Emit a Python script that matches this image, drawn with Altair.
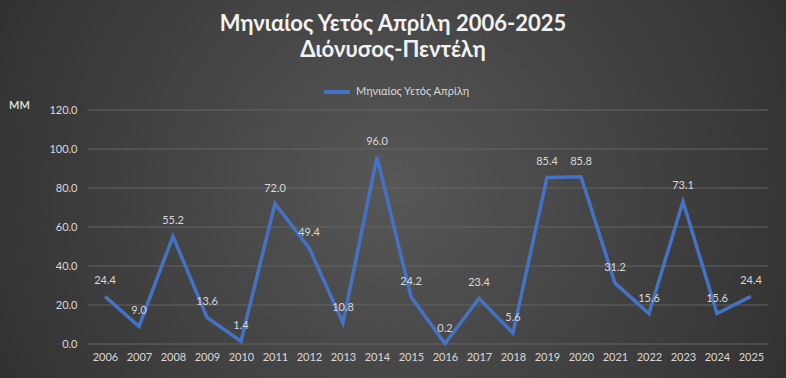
import altair as alt
import pandas as pd

years = ["2006", "2007", "2008", "2009", "2010", "2011", "2012", "2013", "2014", "2015",
         "2016", "2017", "2018", "2019", "2020", "2021", "2022", "2023", "2024", "2025"]
rain = [24.4, 9.0, 55.2, 13.6, 1.4, 72.0, 49.4, 10.8, 96.0, 24.2,
        0.2, 23.4, 5.6, 85.4, 85.8, 31.2, 15.6, 73.1, 15.6, 24.4]
series_name = "Μηνιαίος Υετός  Απρίλη"
y_ticks = [0, 20, 40, 60, 80, 100, 120]
title_lines = ["Μηνιαίος Υετός  Απρίλη 2006-2025", "Διόνυσος-Πεντέλη"]
y_unit = "MM"

df = pd.DataFrame({"year": years, "value": rain, "series": [series_name] * len(years)})
grid_df = pd.DataFrame({"value": y_ticks})

W, H = 680, 234
PL, PT, PR, PB = 88, 110, 18, 34
LABEL = "#d9d9d9"
FONT = "Lato"

yscale = alt.Scale(domain=[0, 120], nice=False)
yaxis = alt.Axis(values=y_ticks, format=".1f", grid=False, domain=False,
                 ticks=False, labelPadding=11, labelColor=LABEL,
                 labelFont=FONT, labelFontSize=11,
                 title=y_unit, titleAngle=0, titleX=-69, titleY=-5,
                 titleAlign="center", titleBaseline="middle",
                 titleFont=FONT, titleFontSize=11, titleFontWeight="bold",
                 titleColor=LABEL, zindex=1)
xaxis = alt.Axis(labelAngle=0, domain=False, ticks=False, grid=False,
                 labelPadding=7, labelColor=LABEL, labelFont=FONT,
                 labelFontSize=11, zindex=1)

bg = alt.Chart(alt.InlineData(values=[{"a": 1}])).mark_rect(
    fill=alt.RadialGradient(
        gradient="radial", x1=0.5, y1=0.5, r1=0, x2=0.5, y2=0.5, r2=0.72,
        stops=[alt.GradientStop(offset=0, color="#575757"),
               alt.GradientStop(offset=1, color="#262626")]),
    stroke=None
).encode(
    x=alt.value(-PL), x2=alt.value(W + PR), y=alt.value(-PT), y2=alt.value(H + PB)
)

grid = alt.Chart(grid_df).mark_rule(color="#646464", strokeWidth=1).encode(
    y=alt.Y("value:Q", scale=yscale, axis=yaxis)
)

line = alt.Chart(df).mark_line(strokeWidth=3.5, strokeJoin="miter").encode(
    x=alt.X("year:O", title=None, axis=xaxis),
    y=alt.Y("value:Q", scale=yscale, axis=yaxis),
    color=alt.Color("series:N", scale=alt.Scale(range=["#4472C4"]),
                    legend=alt.Legend(orient="none", legendX=234, legendY=-33,
                                      title=None, symbolType="stroke",
                                      symbolSize=676, symbolStrokeWidth=4,
                                      labelColor=LABEL, labelFont=FONT,
                                      labelFontSize=11, labelOffset=4, zindex=1))
)

labels = alt.Chart(df).mark_text(dy=-15, color=LABEL, font=FONT, fontSize=11).encode(
    x=alt.X("year:O", title=None, axis=xaxis),
    y=alt.Y("value:Q", scale=yscale, axis=yaxis),
    text=alt.Text("value:Q", format=".1f")
)

chart = alt.layer(bg, grid, line, labels).properties(
    width=W, height=H,
    padding={"left": PL, "top": PT, "right": PR, "bottom": PB},
    autosize=alt.AutoSizeParams(type="none"),
    background="#3a3a3a",
    title=alt.TitleParams(text=title_lines, anchor="middle", offset=-62, dx=-35,
                          font=FONT, fontSize=22, fontWeight="bold",
                          color="#f2f2f2", lineHeight=26.5, zindex=1)
).configure_view(stroke=None)

chart.save("out.html", embed_options={"renderer": "svg", "actions": False})
